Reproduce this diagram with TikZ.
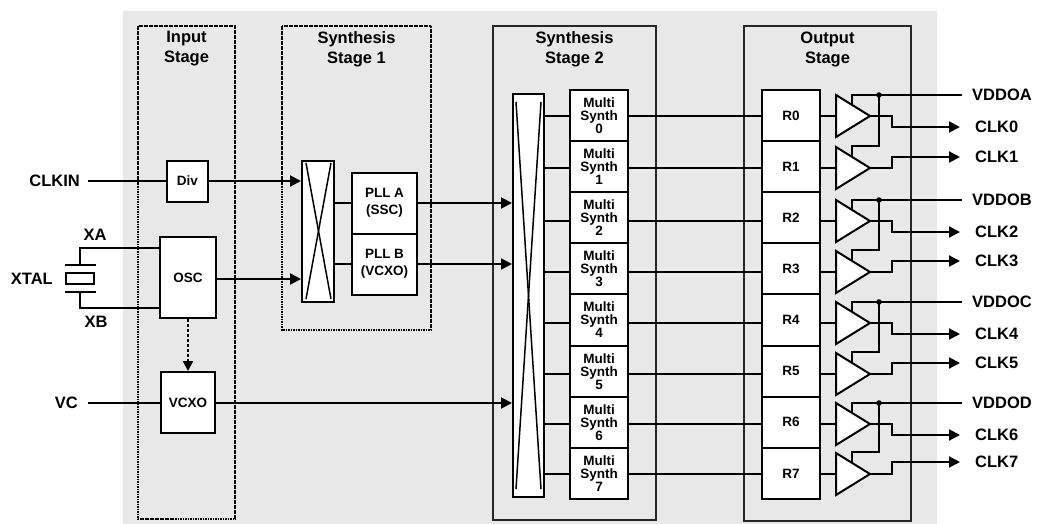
\documentclass[tikz,border=0pt]{standalone}
\usepackage{fontspec}
\setmainfont{Liberation Sans}
\usetikzlibrary{arrows.meta,calc}
\definecolor{bg}{RGB}{232,232,232}
\begin{document}
\begin{tikzpicture}[x=1pt,y=-1pt,
  wire/.style={line width=2pt},
  arr/.style={wire,-{Triangle[length=11pt,width=11pt]}},
  dsharr/.style={line width=2.2pt,dash pattern=on 3pt off 2pt,-{Triangle[length=10pt,width=10pt]}},
  blk/.style={draw,line width=2pt,fill=white,inner sep=0pt,font=\fontsize{13.5}{13}\selectfont\bfseries,align=center},
  dotbox/.style={line width=1.8pt,dash pattern=on 1.6pt off 0.9pt},
  stagebox/.style={draw=black!85,line width=1.2pt},
  ttl/.style={font=\fontsize{16.5}{20}\selectfont\bfseries,align=center},
  lbl/.style={font=\fontsize{16.5}{16}\selectfont\bfseries,inner sep=0pt},
  tri/.style={draw,line width=2pt,fill=white,line join=miter},
  xline/.style={line width=1.5pt}
]
\useasboundingbox (0,0) rectangle (1038,524);
\fill[bg] (123,11) rectangle (937,524);

% stage frames
\draw[dotbox] (138,26) rectangle (235,519);
\draw[dotbox] (282,26) rectangle (431,330);
\draw[stagebox] (493,26) rectangle (656,520);
\draw[stagebox] (744,26) rectangle (911,521);
\node[ttl] (t1) at (186.5,49) {Input\\Stage};
\node[ttl] (t2) at (356.5,49) {Synthesis\\Stage 1};
\node[ttl] (t3) at (574.5,49) {Synthesis\\Stage 2};
\node[ttl] (t4) at (827.5,49) {Output\\Stage};

% input stage
\node[blk,minimum width=41pt,minimum height=41pt] (div) at (187.5,181) {Div};
\node[blk,minimum width=56pt,minimum height=81pt] (osc) at (188,277.5) {OSC};
\node[blk,minimum width=54pt,minimum height=61pt] (vcxo) at (188,402.5) {VCXO};

% synthesis stage 1
\node[blk,minimum width=32pt,minimum height=141pt] (mux1) at (318,231.5) {};
\draw[xline] ($(mux1.north west)+(5,3)$) -- ($(mux1.south east)+(-4,-4)$);
\draw[xline] ($(mux1.north east)+(-4,3)$) -- ($(mux1.south west)+(5,-4)$);
\node[blk,font=\fontsize{13.5}{17}\selectfont\bfseries,minimum width=65pt,minimum height=61pt] (plla) at (384.5,203) {PLL A\\(SSC)};
\node[blk,font=\fontsize{13.5}{17}\selectfont\bfseries,minimum width=65pt,minimum height=61pt] (pllb) at (384.5,264) {PLL B\\(VCXO)};

% synthesis stage 2
\node[blk,minimum width=31pt,minimum height=403pt] (mux2) at (528.5,295.5) {};
\draw[xline] ($(mux2.north west)+(4,9)$) -- ($(mux2.south east)+(-4,-9)$);
\draw[xline] ($(mux2.north east)+(-4,9)$) -- ($(mux2.south west)+(4,-9)$);

\foreach \k in {0,...,7}{
  \node[blk,minimum width=58pt,minimum height=51.125pt] (ms\k) at (599,{115.56+51.125*\k}) {Multi\\Synth\\\k};
  \node[blk,minimum width=58pt,minimum height=51.125pt] (r\k) at (791,{115.56+51.125*\k}) {R\k};
}

% left inputs
\coordinate (clkin) at (88,181);
\coordinate (oscy) at (0,279);
\coordinate (vc) at (88,403);
\node[lbl,anchor=east] (lclkin) at (80,181) {CLKIN};
\node[lbl,anchor=east] (lxtal) at (53,279) {XTAL};
\node[lbl,anchor=east] (lvc) at (78,403) {VC};
\node[lbl] (lxa) at (95,235) {XA};
\node[lbl] (lxb) at (96,322) {XB};

\draw[wire] (clkin) -- (clkin -| div.west);
\draw[arr] (div.east |- clkin) -- (clkin -| mux1.west);
\draw[arr] (osc.east |- oscy) -- (oscy -| mux1.west);
\draw[wire] (vc) -- (vc -| vcxo.west);
\draw[arr] (vcxo.east |- vc) -- (vc -| mux2.west);
\draw[dsharr] (osc.south) -- (vcxo.north);
\draw[wire] (mux1.east |- plla.west) -- (plla.west);
\draw[wire] (mux1.east |- pllb.west) -- (pllb.west);
\draw[arr] (plla.east) -- (plla.east -| mux2.west);
\draw[arr] (pllb.east) -- (pllb.east -| mux2.west);

% crystal
\coordinate (xa) at (80,248);
\coordinate (xb) at (80,308);
\coordinate (xpt) at (80,265);
\coordinate (xpb) at (80,292);
\draw[wire] (osc.west |- xa) -- (xa) -- (xpt);
\draw[wire] (osc.west |- xb) -- (xb) -- (xpb);
\draw[wire] (65,265) -- (96,265);
\draw[wire] (65,292) -- (96,292);
\node[draw,line width=2pt,minimum width=28pt,minimum height=11pt,inner sep=0pt] (xtal) at (80,278.5) {};

% rows
\foreach \k/\y in {0/116,1/168,2/221,3/272,4/323,5/374,6/424,7/474}{
  \coordinate (row\k) at (0,\y);
  \coordinate (bin\k) at (836,\y);
  \coordinate (tip\k) at (870,\y);
  \draw[wire] (mux2.east |- row\k) -- (ms\k.west |- row\k);
  \draw[wire] (ms\k.east |- row\k) -- (r\k.west |- row\k);
  \draw[wire] (r\k.east |- row\k) -- (bin\k);
}

% supplies
\foreach \ya/\yb/\nm in {116/168/A,221/272/B,323/374/C,424/474/D}{
  \draw[wire] (852,\ya-5) -- (852,\ya-21) -- (962,\ya-21);
  \fill (879,\ya-21) circle (2.8pt);
  \draw[wire] (879,\ya-21) -- (879,\yb-22) -- (852,\yb-22) -- (852,\yb-5);
  \node[lbl,anchor=west] (vdd\nm) at (972,\ya-21) {VDDO\nm};
}

% buffers
\foreach \k/\y in {0/116,1/168,2/221,3/272,4/323,5/374,6/424,7/474}{
  \draw[tri] (836,\y-21) -- (tip\k) -- (836,\y+21) -- cycle;
}

% outputs
\foreach \k/\y/\d in {0/116/11,1/168/-11,2/221/11,3/272/-11,4/323/11,5/374/-11,6/424/11,7/474/-12}{
  \coordinate (o\k) at (960,\y+\d);
  \draw[arr] (tip\k) -- (892,\y) -- (892,\y+\d) -- (o\k);
  \node[lbl,anchor=west] (clk\k) at (975,\y+\d) {CLK\k};
}
\end{tikzpicture}
\end{document}
